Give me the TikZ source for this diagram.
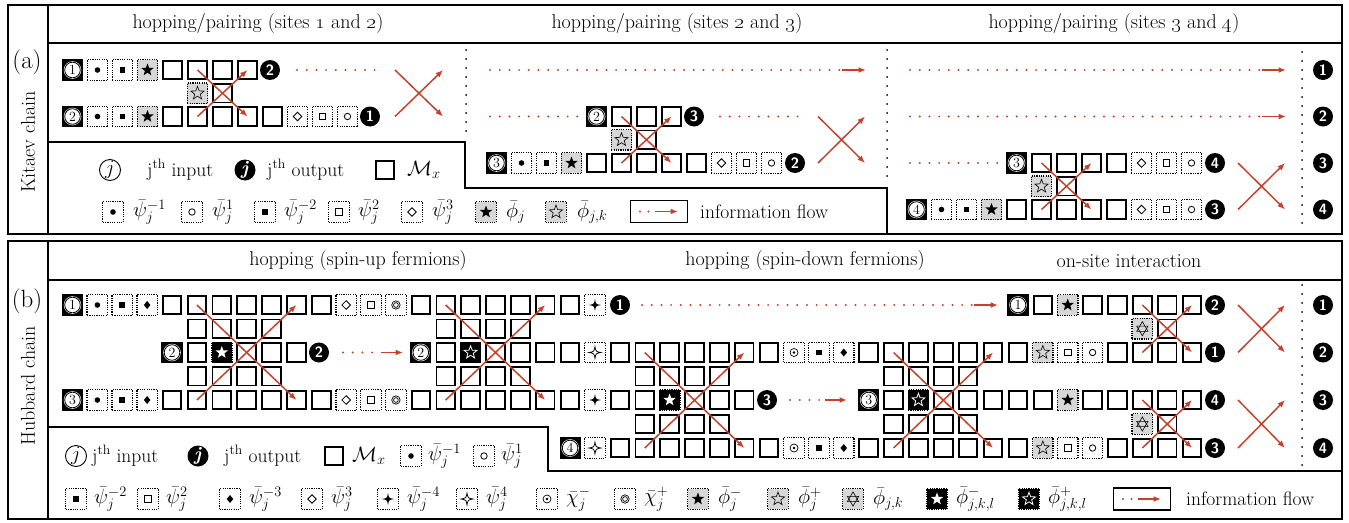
\documentclass[tikz,border=0pt]{standalone}
\usetikzlibrary{arrows.meta,shapes.geometric}

\definecolor{arrred}{RGB}{196,66,44}
\definecolor{boxgrey}{RGB}{215,215,215}

\newcommand\ttl{\fontsize{20}{24}\selectfont}
\newcommand\side{\fontsize{20}{24}\selectfont}
\newcommand\lgd{\fontsize{19.5}{23}\selectfont}
\newcommand\numin{\fontsize{14}{14}\selectfont}
\newcommand\numout{\fontsize{15}{15}\selectfont\sffamily\bfseries}

% four-pointed star outline
\newcommand\fourstar{(0pt,6pt) .. controls (0.9pt,0.9pt) .. (6pt,0pt) .. controls (0.9pt,-0.9pt) .. (0pt,-6pt) .. controls (-0.9pt,-0.9pt) .. (-6pt,0pt) .. controls (-0.9pt,0.9pt) .. (0pt,6pt) -- cycle}

\tikzset{
  cellb/.style={draw, line width=1.9pt, minimum size=18.5pt, inner sep=0pt},
  dotb/.style={draw, line width=1.3pt, dash pattern=on 1.2pt off 1.1pt, minimum size=20.5pt, inner sep=0pt},
  box-cell/.style={cellb},
  box-pdot/.style={dotb}, box-pcirc/.style={dotb}, box-psq/.style={dotb}, box-posq/.style={dotb},
  box-pdia/.style={dotb}, box-podia/.style={dotb}, box-pfour/.style={dotb}, box-pofour/.style={dotb},
  box-xdot/.style={dotb}, box-xring/.style={dotb},
  box-gstar/.style={dotb, fill=boxgrey}, box-gostar/.style={dotb, fill=boxgrey}, box-gdavid/.style={dotb, fill=boxgrey},
  box-kstar/.style={dotb, fill=black}, box-kostar/.style={dotb, fill=black},
  pics/sym-cell/.style={code={}},
  pics/sym-pdot/.style={code={\fill (0pt,0pt) circle (2.8pt);}},
  pics/sym-pcirc/.style={code={\draw[line width=0.8pt] (0pt,0pt) circle (3.2pt);}},
  pics/sym-psq/.style={code={\fill (-2.8pt,-2.8pt) rectangle (2.8pt,2.8pt);}},
  pics/sym-posq/.style={code={\draw[line width=0.8pt] (-3.2pt,-3.2pt) rectangle (3.2pt,3.2pt);}},
  pics/sym-pdia/.style={code={\fill (0pt,4pt) -- (3.3pt,0pt) -- (0pt,-4pt) -- (-3.3pt,0pt) -- cycle;}},
  pics/sym-podia/.style={code={\draw[line width=0.8pt] (0pt,4.3pt) -- (4.3pt,0pt) -- (0pt,-4.3pt) -- (-4.3pt,0pt) -- cycle;}},
  pics/sym-pfour/.style={code={\fill \fourstar;}},
  pics/sym-pofour/.style={code={\draw[line width=0.7pt] \fourstar;}},
  pics/sym-xdot/.style={code={\draw[line width=0.7pt] (0pt,0pt) circle (4pt); \fill (0pt,0pt) circle (1.3pt);}},
  pics/sym-xring/.style={code={\draw[line width=0.7pt] (0pt,0pt) circle (4.2pt); \draw[line width=0.7pt] (0pt,0pt) circle (2.4pt);}},
  pics/sym-gstar/.style={code={\node[star, star points=5, star point ratio=2.4, fill=black, inner sep=0pt, minimum size=13pt] at (0pt,0pt) {};}},
  pics/sym-gostar/.style={code={\node[star, star points=5, star point ratio=2.4, draw, line width=0.6pt, inner sep=0pt, minimum size=14pt] at (0pt,0pt) {};}},
  pics/sym-gdavid/.style={code={
     \node[regular polygon, regular polygon sides=3, draw, line width=0.6pt, inner sep=0pt, minimum size=13pt] at (0pt,0.6pt) {};
     \node[regular polygon, regular polygon sides=3, shape border rotate=180, draw, line width=0.6pt, inner sep=0pt, minimum size=13pt] at (0pt,-0.6pt) {};}},
  pics/sym-kstar/.style={code={\node[star, star points=5, star point ratio=2.4, fill=white, inner sep=0pt, minimum size=13pt] at (0pt,0pt) {};}},
  pics/sym-kostar/.style={code={\node[star, star points=5, star point ratio=2.4, draw=white, line width=0.8pt, inner sep=0pt, minimum size=13.5pt] at (0pt,0pt) {};}},
  insym/.style={draw, line width=1.2pt, minimum size=20pt, inner sep=0pt, font=\numin,
    path picture={\fill (path picture bounding box.south west) rectangle (path picture bounding box.north east);
      \fill[white] (path picture bounding box.center) circle (8.8pt);
      \draw[line width=0.8pt] (path picture bounding box.center) circle (7.8pt);}},
  outsym/.style={circle, fill=black, minimum size=20pt, inner sep=0pt, text=white, font=\numout},
  lgin/.style={circle, draw, line width=0.9pt, minimum size=21pt, inner sep=0pt, font=\lgd},
  lgout/.style={circle, fill=black, minimum size=21pt, inner sep=0pt, text=white, font=\lgd},
  lbl/.style={anchor=west, inner sep=0pt, font=\lgd},
  flow/.style={draw=arrred, line width=1.5pt, -{Latex[length=7.5pt,width=6pt]}},
  rdots/.style={draw=arrred, line width=2.2pt, line cap=round, dash pattern=on 0pt off 9.7pt},
  kdots/.style={draw=black, line width=2pt, line cap=round, dash pattern=on 0pt off 9pt},
  frame/.style={draw, line width=2.4pt},
  rule/.style={draw, line width=1.8pt},
  infobox/.style={draw, line width=1.6pt, minimum width=57pt, minimum height=22pt, inner sep=0pt},
}

% one box (solid cell or dotted marker box) with its symbol
\newcommand\bx[4]{%
  \edef\bxcmd{\noexpand\node[box-#4] (#1) at (#2,#3) {}; \noexpand\pic at (#1.center) {sym-#4};}%
  \bxcmd}
% panel (a): pitch 25 from a block origin
\newcommand\boxesA[4]{\foreach \cl/\kd in {#4} {\bx{#1c\cl}{#2+25*\cl}{#3}{\kd}}}
\newcommand\cellsA[5]{\foreach \cl in {#4,...,#5} {\bx{#1c\cl}{#2+25*\cl}{#3}{cell}}}
% panel (b): pitch 24.88 from x = 72.5
\newcommand\boxesB[3]{\foreach \cl/\kd in {#3} {\bx{#1c\cl}{72.5+24.88*\cl}{#2}{\kd}}}
\newcommand\cellsB[4]{\foreach \cl in {#3,...,#4} {\bx{#1c\cl}{72.5+24.88*\cl}{#2}{cell}}}
\newcommand\inp[4]{\node[insym] (#1) at (#2,#3) {#4};}
\newcommand\outp[4]{\node[outsym] (#1) at (#2,#3) {#4};}

\begin{document}
\begin{tikzpicture}[x=1pt,y=-1pt]
\useasboundingbox (0,0) rectangle (1349,522);

%================ panel (a): Kitaev chain ================
\draw[frame] (8,5) rectangle (1342,234);
\draw[rule] (48,5) -- (48,234);
\draw[rule] (48,43) -- (1342,43);
\draw[rule] (48,142) -- (465,142) -- (465,188) -- (887,188) -- (887,234);
\node[font=\fontsize{25}{29}\selectfont] (lab-a) at (27,62) {(a)};
\node[font=\side, rotate=90] (kitaev) at (28,142) {Kitaev chain};
\node[font=\ttl] (ta1) at (258,24) {hopping/pairing (sites \oldstylenums{1} and \oldstylenums{2})};
\node[font=\ttl] (ta2) at (677,24) {hopping/pairing (sites \oldstylenums{2} and \oldstylenums{3})};
\node[font=\ttl] (ta3) at (1114,24) {hopping/pairing (sites \oldstylenums{3} and \oldstylenums{4})};

\draw[kdots] (466,50) -- (466,137);
\draw[kdots] (887,50) -- (887,182);
\draw[kdots] (1302,52) -- (1302,229);

% block 1: sites 1 and 2
\inp{a1i1}{72.5}{70}{1}
\boxesA{a1r1}{72.5}{70}{1/pdot,2/psq,3/gstar}
\cellsA{a1r1}{72.5}{70}{4}{7}
\outp{a1o2}{270}{70}{2}
\inp{a1i2}{72.5}{116.5}{2}
\boxesA{a1r2}{72.5}{116.5}{1/pdot,2/psq,3/gstar,9/podia,10/posq,11/pcirc}
\cellsA{a1r2}{72.5}{116.5}{4}{8}
\outp{a1o1}{370}{116.5}{1}
\boxesA{a1m}{72.5}{93.25}{5/gostar,6/cell}
\draw[flow] (a1r2c5.center) -- (a1r1c7.center);
\draw[flow] (a1r1c5.center) -- (a1r2c7.center);
\coordinate (a1d1s) at (297,70); \coordinate (a1d1e) at (384,70);
\draw[rdots] (a1d1s) -- (a1d1e);
\coordinate (a1xa) at (395,116.5); \coordinate (a1xb) at (443,70);
\coordinate (a1xc) at (395,70); \coordinate (a1xd) at (443,116.5);
\draw[flow] (a1xa) -- (a1xb);
\draw[flow] (a1xc) -- (a1xd);

% block 2: sites 2 and 3
\coordinate (a2d1s) at (490,70); \coordinate (a2d1m) at (842,70); \coordinate (a2d1e) at (866,70);
\draw[rdots] (a2d1s) -- (a2d1m);
\draw[flow] (a2d1m) -- (a2d1e);
\coordinate (a2d2s) at (490,116.5); \coordinate (a2d2e) at (578,116.5);
\draw[rdots] (a2d2s) -- (a2d2e);
\inp{a2i2}{596.5}{116.5}{2}
\cellsA{a2r2}{496.5}{116.5}{5}{7}
\outp{a2o3}{694}{116.5}{3}
\coordinate (a2d3s) at (720,116.5); \coordinate (a2d3e) at (806,116.5);
\draw[rdots] (a2d3s) -- (a2d3e);
\inp{a2i3}{496.5}{163}{3}
\boxesA{a2r3}{496.5}{163}{1/pdot,2/psq,3/gstar,9/podia,10/posq,11/pcirc}
\cellsA{a2r3}{496.5}{163}{4}{8}
\outp{a2o2}{795}{163}{2}
\boxesA{a2m}{496.5}{139.75}{5/gostar,6/cell}
\draw[flow] (a2r3c5.center) -- (a2r2c7.center);
\draw[flow] (a2r2c5.center) -- (a2r3c7.center);
\coordinate (a2xa) at (818,163); \coordinate (a2xb) at (865,116.5);
\coordinate (a2xc) at (818,116.5); \coordinate (a2xd) at (865,163);
\draw[flow] (a2xa) -- (a2xb);
\draw[flow] (a2xc) -- (a2xd);

% block 3: sites 3 and 4
\coordinate (a3d1s) at (910,70); \coordinate (a3d1m) at (1262,70); \coordinate (a3d1e) at (1286,70);
\draw[rdots] (a3d1s) -- (a3d1m);
\draw[flow] (a3d1m) -- (a3d1e);
\coordinate (a3d2s) at (910,116.5); \coordinate (a3d2m) at (1262,116.5); \coordinate (a3d2e) at (1286,116.5);
\draw[rdots] (a3d2s) -- (a3d2m);
\draw[flow] (a3d2m) -- (a3d2e);
\coordinate (a3d3s) at (910,163); \coordinate (a3d3e) at (998,163);
\draw[rdots] (a3d3s) -- (a3d3e);
\inp{a3i3}{1016.5}{163}{3}
\cellsA{a3r3}{916.5}{163}{5}{8}
\boxesA{a3r3}{916.5}{163}{9/podia,10/posq,11/pcirc}
\outp{a3o4}{1215}{163}{4}
\inp{a3i4}{916.5}{209.5}{4}
\boxesA{a3r4}{916.5}{209.5}{1/pdot,2/psq,3/gstar,9/podia,10/posq,11/pcirc}
\cellsA{a3r4}{916.5}{209.5}{4}{8}
\outp{a3o3}{1215}{209.5}{3}
\boxesA{a3m}{916.5}{186.25}{5/gostar,6/cell}
\draw[flow] (a3r4c5.center) -- (a3r3c7.center);
\draw[flow] (a3r3c5.center) -- (a3r4c7.center);
\coordinate (a3xa) at (1238,209.5); \coordinate (a3xb) at (1285,163);
\coordinate (a3xc) at (1238,163); \coordinate (a3xd) at (1285,209.5);
\draw[flow] (a3xa) -- (a3xb);
\draw[flow] (a3xc) -- (a3xd);
\outp{afin1}{1323}{70}{1}
\outp{afin2}{1323}{116.5}{2}
\outp{afin3}{1323}{163}{3}
\outp{afin4}{1323}{209.5}{4}

% legend (a)
\node[lgin] (la-in) at (110,170) {$j$};
\node[lbl] (la-int) at (147,170) {j\textsuperscript{th} input};
\node[lgout] (la-out) at (245,170) {\textbf{\textit{j}}};
\node[lbl] (la-outt) at (267,170) {j\textsuperscript{th} output};
\bx{la-m}{385}{170}{cell}
\node[lbl] (la-mt) at (407,170) {$\mathcal{M}_x$};
\bx{la-b1}{113}{212}{pdot}   \node[lbl] (la-t1) at (133,212) {$\bar{\psi}_j^{-1}$};
\bx{la-b2}{192}{212}{pcirc}  \node[lbl] (la-t2) at (212,212) {$\bar{\psi}_j^{1}$};
\bx{la-b3}{265}{212}{psq}    \node[lbl] (la-t3) at (284,212) {$\bar{\psi}_j^{-2}$};
\bx{la-b4}{339}{212}{posq}   \node[lbl] (la-t4) at (358,212) {$\bar{\psi}_j^{2}$};
\bx{la-b5}{412}{212}{podia}  \node[lbl] (la-t5) at (432,212) {$\bar{\psi}_j^{3}$};
\bx{la-b6}{486}{212}{gstar}  \node[lbl] (la-t6) at (506,212) {$\bar{\phi}_j$};
\bx{la-b7}{556}{212}{gostar} \node[lbl] (la-t7) at (577,212) {$\bar{\phi}_{j,k}$};
\node[infobox] (la-info) at (659,211.5) {};
\coordinate (la-i1) at ([xshift=-19pt]la-info.center);
\coordinate (la-i2) at ([xshift=-10pt]la-info.center);
\coordinate (la-i3) at ([xshift=-4pt]la-info.center);
\coordinate (la-i4) at ([xshift=19pt]la-info.center);
\draw[rdots, dash pattern=on 0pt off 8.5pt] (la-i1) -- (la-i2);
\draw[flow] (la-i3) -- (la-i4);
\node[lbl] (la-infot) at (700,211.5) {information flow};

%================ panel (b): Hubbard chain ================
\draw[frame] (8,241) rectangle (1342,519);
\draw[rule] (48,241) -- (48,519);
\draw[rule] (48,280) -- (1342,280);
\draw[rule] (48,427) -- (548,427) -- (548,471) -- (1342,471);
\node[font=\fontsize{25}{29}\selectfont] (lab-b) at (27,301) {(b)};
\node[font=\side, rotate=90] (hubbard) at (28,386) {Hubbard chain};
\node[font=\ttl] (tb1) at (358,261) {hopping (spin-up fermions)};
\node[font=\ttl] (tb2) at (805,261) {hopping (spin-down fermions)};
\node[font=\ttl] (tb3) at (1129,261) {on-site interaction};
\draw[kdots] (1302,285) -- (1302,466);

% row 1
\inp{b1i1}{72.5}{305}{1}
\boxesB{b1}{305}{1/pdot,2/psq,3/pdia,11/podia,12/posq,13/xring,21/pfour,40/gstar}
\cellsB{b1}{305}{4}{10}
\cellsB{b1}{305}{14}{20}
\cellsB{b1}{305}{39}{39}
\cellsB{b1}{305}{41}{45}
\outp{b1o1}{620}{305}{1}
\coordinate (b1ds) at (642,305); \coordinate (b1dm) at (974,305); \coordinate (b1de) at (998,305);
\draw[rdots] (b1ds) -- (b1dm);
\draw[flow] (b1dm) -- (b1de);
\inp{b1i2}{1018}{305}{1}
\outp{b1o2}{1215}{305}{2}
% sub-row between rows 1 and 2
\cellsB{bs1}{328.7}{5}{8}
\cellsB{bs1}{328.7}{15}{18}
\boxesB{bs1}{328.7}{43/gdavid,44/cell}
% row 2
\inp{b2i1}{172}{352.5}{2}
\boxesB{b2}{352.5}{6/kstar,16/kostar,21/pofour,29/xdot,30/psq,31/pdia,39/gostar,40/posq,41/pcirc}
\cellsB{b2}{352.5}{5}{5}
\cellsB{b2}{352.5}{7}{9}
\cellsB{b2}{352.5}{15}{15}
\cellsB{b2}{352.5}{17}{20}
\cellsB{b2}{352.5}{22}{28}
\cellsB{b2}{352.5}{32}{38}
\cellsB{b2}{352.5}{42}{45}
\outp{b2o1}{319}{352.5}{2}
\coordinate (b2ds) at (343,352.5); \coordinate (b2dm) at (381,352.5); \coordinate (b2de) at (403,352.5);
\draw[rdots] (b2ds) -- (b2dm);
\draw[flow] (b2dm) -- (b2de);
\inp{b2i2}{420.8}{352.5}{2}
\outp{b2o2}{1215}{352.5}{1}
% sub-row between rows 2 and 3
\cellsB{bs2}{376.2}{5}{8}
\cellsB{bs2}{376.2}{15}{18}
\cellsB{bs2}{376.2}{23}{26}
\cellsB{bs2}{376.2}{33}{36}
% row 3
\inp{b3i1}{72.5}{400}{3}
\boxesB{b3}{400}{1/pdot,2/psq,3/pdia,11/podia,12/posq,13/xring,21/pfour,24/kstar,34/kostar,40/gstar}
\cellsB{b3}{400}{4}{10}
\cellsB{b3}{400}{14}{20}
\cellsB{b3}{400}{22}{23}
\cellsB{b3}{400}{25}{27}
\cellsB{b3}{400}{33}{33}
\cellsB{b3}{400}{35}{39}
\cellsB{b3}{400}{41}{45}
\outp{b3o1}{767}{400}{3}
\coordinate (b3ds) at (790,400); \coordinate (b3dm) at (825,400); \coordinate (b3de) at (847,400);
\draw[rdots] (b3ds) -- (b3dm);
\draw[flow] (b3dm) -- (b3de);
\inp{b3i2}{868.7}{400}{3}
\outp{b3o2}{1215}{400}{4}
% sub-row between rows 3 and 4
\cellsB{bs3}{424}{23}{26}
\cellsB{bs3}{424}{33}{36}
\boxesB{bs3}{424}{43/gdavid,44/cell}
% row 4
\inp{b4i1}{570.1}{448}{4}
\boxesB{b4}{448}{21/pofour,29/xdot,30/psq,31/pdia,39/gostar,40/posq,41/pcirc}
\cellsB{b4}{448}{22}{28}
\cellsB{b4}{448}{32}{38}
\cellsB{b4}{448}{42}{45}
\outp{b4o1}{1215}{448}{3}

% crossing gates
\draw[flow] (b3c5.center) -- (b1c9.center);
\draw[flow] (b1c5.center) -- (b3c9.center);
\draw[flow] (b3c15.center) -- (b1c19.center);
\draw[flow] (b1c15.center) -- (b3c19.center);
\draw[flow] (b4c23.center) -- (b2c27.center);
\draw[flow] (b2c23.center) -- (b4c27.center);
\draw[flow] (b4c33.center) -- (b2c37.center);
\draw[flow] (b2c33.center) -- (b4c37.center);
\draw[flow] (b2c43.center) -- (b1c45.center);
\draw[flow] (b1c43.center) -- (b2c45.center);
\draw[flow] (b4c43.center) -- (b3c45.center);
\draw[flow] (b3c43.center) -- (b4c45.center);
\coordinate (bxa) at (1238,352.5); \coordinate (bxb) at (1285,305);
\coordinate (bxc) at (1238,305);   \coordinate (bxd) at (1285,352.5);
\coordinate (bxe) at (1238,448);   \coordinate (bxf) at (1285,400);
\coordinate (bxg) at (1238,400);   \coordinate (bxh) at (1285,448);
\draw[flow] (bxa) -- (bxb);
\draw[flow] (bxc) -- (bxd);
\draw[flow] (bxe) -- (bxf);
\draw[flow] (bxg) -- (bxh);
\outp{bfin1}{1323}{305}{1}
\outp{bfin2}{1323}{352.5}{2}
\outp{bfin3}{1323}{400}{3}
\outp{bfin4}{1323}{448}{4}

% legend (b)
\node[lgin] (lb-in) at (76,456) {$j$};
\node[lbl] (lb-int) at (92,456) {j\textsuperscript{th} input};
\node[lgout] (lb-out) at (198,456) {\textbf{\textit{j}}};
\node[lbl] (lb-outt) at (224,456) {j\textsuperscript{th} output};
\bx{lb-m}{334}{456}{cell}
\node[lbl] (lb-mt) at (352,456) {$\mathcal{M}_x$};
\bx{lb-a1}{411}{456}{pdot}  \node[lbl] (lb-s1) at (428,456) {$\bar{\psi}_j^{-1}$};
\bx{lb-a2}{484}{456}{pcirc} \node[lbl] (lb-s2) at (501,456) {$\bar{\psi}_j^{1}$};
\bx{lb-b1}{76}{499}{psq}     \node[lbl] (lb-t1) at (94,499) {$\bar{\psi}_j^{-2}$};
\bx{lb-b2}{148}{499}{posq}   \node[lbl] (lb-t2) at (166,499) {$\bar{\psi}_j^{2}$};
\bx{lb-b3}{230}{499}{pdia}   \node[lbl] (lb-t3) at (249,499) {$\bar{\psi}_j^{-3}$};
\bx{lb-b4}{312}{499}{podia}  \node[lbl] (lb-t4) at (331,499) {$\bar{\psi}_j^{3}$};
\bx{lb-b5}{388}{499}{pfour}  \node[lbl] (lb-t5) at (407,499) {$\bar{\psi}_j^{-4}$};
\bx{lb-b6}{467}{499}{pofour} \node[lbl] (lb-t6) at (486,499) {$\bar{\psi}_j^{4}$};
\bx{lb-b7}{547}{499}{xdot}   \node[lbl] (lb-t7) at (566,499) {$\bar{\chi}_j^{-}$};
\bx{lb-b8}{625}{499}{xring}  \node[lbl] (lb-t8) at (644,499) {$\bar{\chi}_j^{+}$};
\bx{lb-b9}{698}{499}{gstar}  \node[lbl] (lb-t9) at (718,499) {$\bar{\phi}_j^{-}$};
\bx{lb-b10}{778}{499}{gostar} \node[lbl] (lb-t10) at (798,499) {$\bar{\phi}_j^{+}$};
\bx{lb-b11}{853}{499}{gdavid} \node[lbl] (lb-t11) at (873,499) {$\bar{\phi}_{j,k}$};
\bx{lb-b12}{937}{499}{kstar}  \node[lbl] (lb-t12) at (956,499) {$\bar{\phi}_{j,k,l}^{-}$};
\bx{lb-b13}{1029}{499}{kostar} \node[lbl] (lb-t13) at (1048,499) {$\bar{\phi}_{j,k,l}^{+}$};
\node[infobox] (lb-info) at (1142,499) {};
\coordinate (lb-i1) at ([xshift=-19pt]lb-info.center);
\coordinate (lb-i2) at ([xshift=-10pt]lb-info.center);
\coordinate (lb-i3) at ([xshift=-4pt]lb-info.center);
\coordinate (lb-i4) at ([xshift=19pt]lb-info.center);
\draw[rdots, dash pattern=on 0pt off 8.5pt] (lb-i1) -- (lb-i2);
\draw[flow] (lb-i3) -- (lb-i4);
\node[lbl] (lb-infot) at (1186,499) {information flow};
\end{tikzpicture}
\end{document}
